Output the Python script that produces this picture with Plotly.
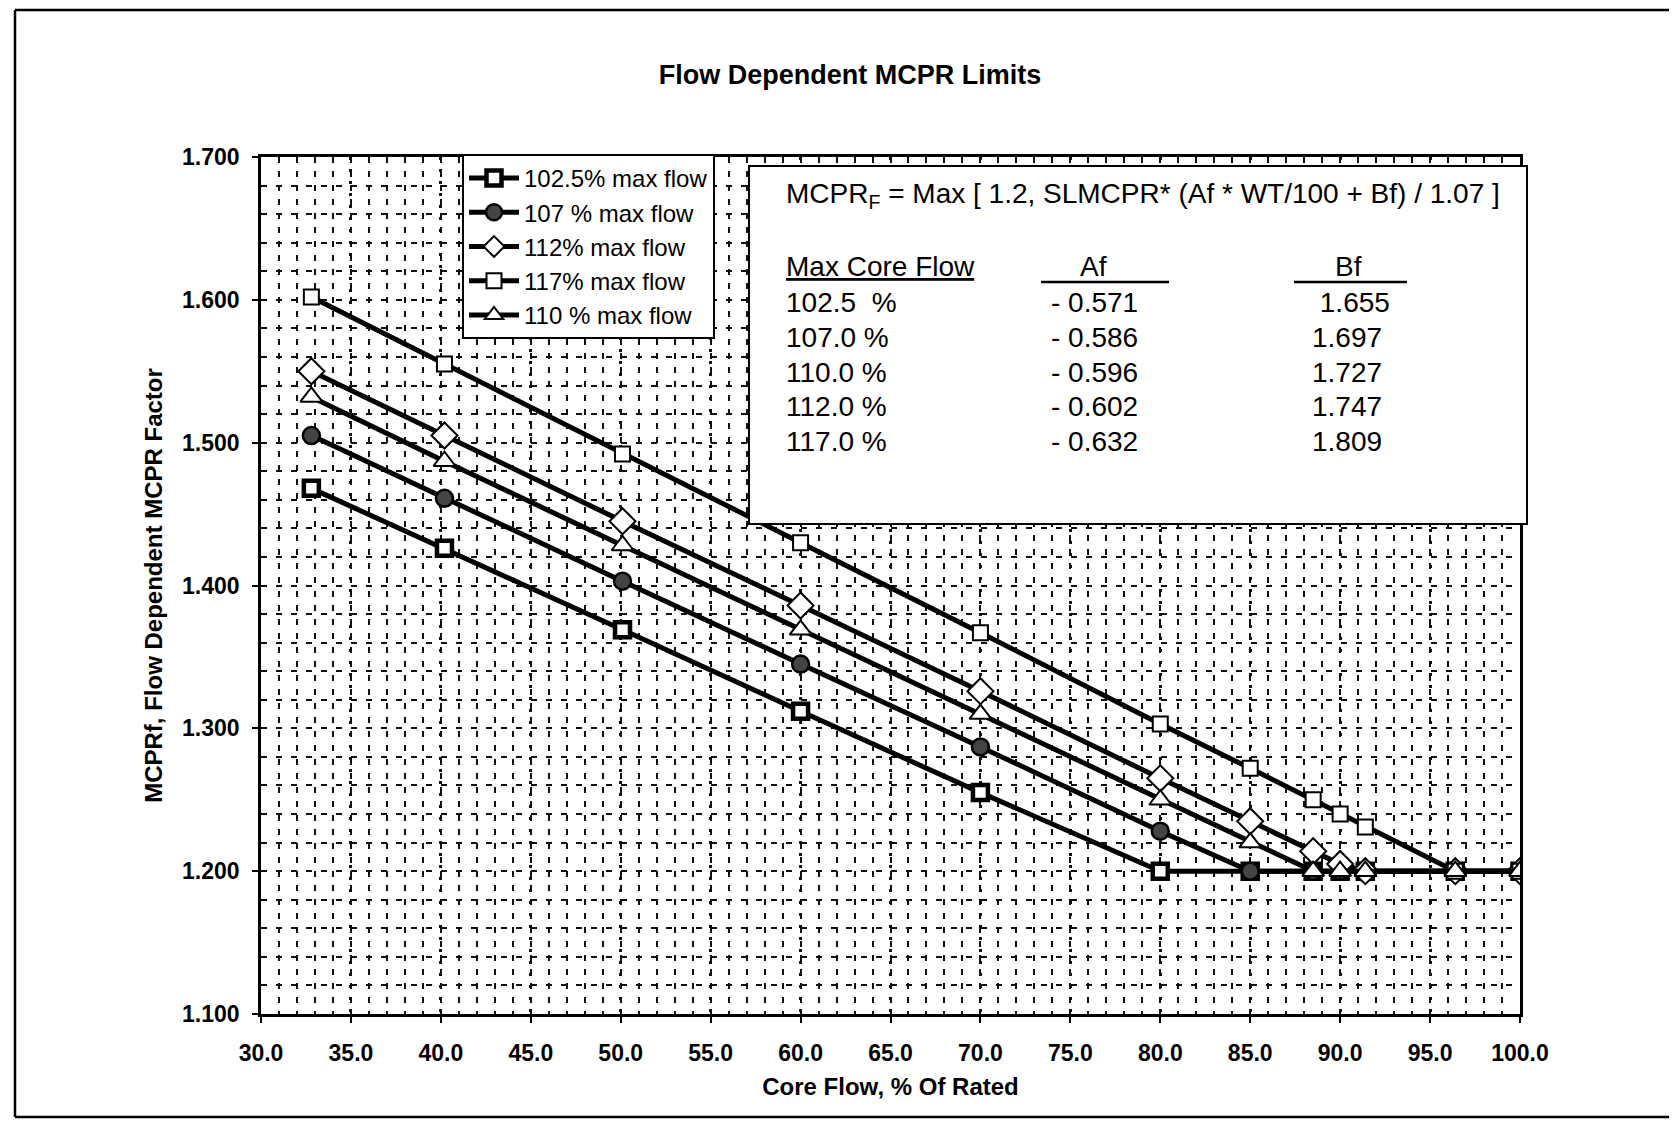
import plotly.graph_objects as go

# ---------------- data ----------------
core_flow = [32.8, 40.2, 50.1, 60.0, 70.0, 80.0, 85.0, 88.5, 90.0, 91.4, 96.4, 100.0]

series_names = ["102.5% max flow", "107 % max flow", "112% max flow", "117% max flow", "110 % max flow"]
mcpr_1025 = [1.468, 1.426, 1.369, 1.312, 1.255, 1.200, 1.200, 1.200, 1.200, 1.200, 1.200, 1.200]
mcpr_107 = [1.505, 1.461, 1.403, 1.345, 1.287, 1.228, 1.200, 1.200, 1.200, 1.200, 1.200, 1.200]
mcpr_112 = [1.550, 1.505, 1.445, 1.386, 1.326, 1.265, 1.235, 1.214, 1.205, 1.200, 1.200, 1.200]
mcpr_117 = [1.602, 1.555, 1.492, 1.430, 1.367, 1.303, 1.272, 1.250, 1.240, 1.231, 1.200, 1.200]
mcpr_110 = [1.532, 1.487, 1.428, 1.369, 1.310, 1.250, 1.220, 1.200, 1.200, 1.200, 1.200, 1.200]

x_ticks = [30, 35, 40, 45, 50, 55, 60, 65, 70, 75, 80, 85, 90, 95, 100]
y_ticks = [1.1, 1.2, 1.3, 1.4, 1.5, 1.6, 1.7]

table_flow = ["102.5\u00a0 %", "107.0 %", "110.0 %", "112.0 %", "117.0 %"]
table_af = ["- 0.571", "- 0.586", "- 0.596", "- 0.602", "- 0.632"]
table_bf = ["\u00a01.655", "1.697", "1.727", "1.747", "1.809"]
formula_text = "MCPR<sub>F</sub> = Max [ 1.2, SLMCPR* (Af * WT/100 + Bf) / 1.07 ]"

# ---------------- layout geometry (page pixels) ----------------
OFF = 8  # default page body margin
FIG_W, FIG_H = 1677 - OFF, 1122 - OFF
L, R, T, B = 261, 1520, 157, 1014
PW, PH = R - L, B - T


def px(x):
    return (x - L) / PW


def py(y):
    return (B - y) / PH


FONT = "Liberation Sans, Arial, sans-serif"

styles = [
    dict(symbol="square", size=15, color="white", line=dict(color="black", width=4.5)),
    dict(symbol="circle", size=17, color="#444444", line=dict(color="black", width=2.5)),
    dict(symbol="diamond", size=20, color="white", line=dict(color="black", width=2)),
    dict(symbol="square", size=15, color="white", line=dict(color="black", width=2)),
    dict(symbol="triangle-up", size=19, color="white", line=dict(color="black", width=2)),
]
series_vals = [mcpr_1025, mcpr_107, mcpr_112, mcpr_117, mcpr_110]

fig = go.Figure()
for i, (name, vals, st) in enumerate(zip(series_names, series_vals, styles)):
    fig.add_trace(go.Scatter(
        x=core_flow, y=vals, name=name, mode="lines+markers",
        line=dict(color="black", width=5),
        marker=st, legendgroup=f"g{i}",
    ))

grid_col = "#111111"
fig.update_xaxes(
    range=[30, 100], tickvals=x_ticks, tickformat=".1f",
    showline=True, mirror=True, linecolor="black", linewidth=2.5,
    ticks="outside", ticklen=6, tickwidth=2, tickcolor="black",
    showgrid=True, gridcolor=grid_col, gridwidth=2.5, griddash="3px,9px",
    minor=dict(dtick=1, showgrid=True, gridcolor=grid_col, gridwidth=1.8, griddash="6px,8px"),
    tickfont=dict(family=FONT, size=23, color="black", weight="bold"),
    ticklabelstandoff=11,
    title=dict(text="<b>Core Flow, % Of Rated</b>", font=dict(family=FONT, size=24, color="black"), standoff=13),
    zeroline=False, automargin=False,
)
fig.update_yaxes(
    range=[1.1, 1.7], tickvals=y_ticks, tickformat=".3f",
    showline=True, mirror=True, linecolor="black", linewidth=2.5,
    ticks="outside", ticklen=6, tickwidth=2, tickcolor="black",
    showgrid=True, gridcolor=grid_col, gridwidth=1.8, griddash="6px,9px",
    minor=dict(dtick=0.02, showgrid=True, gridcolor=grid_col, gridwidth=1.8, griddash="6px,9px"),
    tickfont=dict(family=FONT, size=23, color="black", weight="bold"),
    ticklabelstandoff=8,
    title=dict(text="<b>MCPRf, Flow Dependent MCPR Factor</b>", font=dict(family=FONT, size=24, color="black"), standoff=13),
    zeroline=False, automargin=False,
)

shapes = []
# outer frame (left, top, bottom)
shapes.append(dict(type="line", xref="paper", yref="paper", x0=px(15), x1=px(1700), y0=py(10), y1=py(10),
                   line=dict(color="black", width=2.5)))
shapes.append(dict(type="line", xref="paper", yref="paper", x0=px(15), x1=px(15), y0=py(10), y1=py(1117),
                   line=dict(color="black", width=2.5)))
shapes.append(dict(type="line", xref="paper", yref="paper", x0=px(15), x1=px(1700), y0=py(1117), y1=py(1117),
                   line=dict(color="black", width=2.5)))
# equation / table box
shapes.append(dict(type="rect", xref="paper", yref="paper", layer="above",
                   x0=px(749), x1=px(1527), y0=py(524), y1=py(166),
                   fillcolor="white", line=dict(color="black", width=2)))
# header underlines
shapes.append(dict(type="line", xref="paper", yref="paper", x0=px(1041), x1=px(1169), y0=py(282), y1=py(282),
                   line=dict(color="black", width=2.5)))
shapes.append(dict(type="line", xref="paper", yref="paper", x0=px(1294), x1=px(1407), y0=py(282), y1=py(282),
                   line=dict(color="black", width=2.5)))

box_font = dict(family=FONT, size=28, color="black")
annotations = [
    dict(text=formula_text, x=px(784), y=py(196), xref="paper", yref="paper",
         xanchor="left", yanchor="middle", showarrow=False, font=box_font),
    dict(text="<u>Max Core Flow</u>", x=px(784), y=py(266), xref="paper", yref="paper",
         xanchor="left", yanchor="middle", showarrow=False, font=box_font),
    dict(text="Af", x=px(1093), y=py(266), xref="paper", yref="paper",
         xanchor="center", yanchor="middle", showarrow=False, font=box_font),
    dict(text="Bf", x=px(1348), y=py(266), xref="paper", yref="paper",
         xanchor="center", yanchor="middle", showarrow=False, font=box_font),
]
row_y = [303, 337, 372, 406, 441]
for ry, fl, af, bf in zip(row_y, table_flow, table_af, table_bf):
    annotations.append(dict(text=fl, x=px(784), y=py(ry), xref="paper", yref="paper",
                            xanchor="left", yanchor="middle", showarrow=False, font=box_font))
    annotations.append(dict(text=af, x=px(1049), y=py(ry), xref="paper", yref="paper",
                            xanchor="left", yanchor="middle", showarrow=False, font=box_font))
    annotations.append(dict(text=bf, x=px(1310), y=py(ry), xref="paper", yref="paper",
                            xanchor="left", yanchor="middle", showarrow=False, font=box_font))

fig.update_layout(
    width=FIG_W, height=FIG_H,
    margin=dict(l=L - OFF, r=FIG_W - (R - OFF), t=T - OFF, b=FIG_H - (B - OFF), autoexpand=False),
    paper_bgcolor="white", plot_bgcolor="white",
    title=dict(text="<b>Flow Dependent MCPR Limits</b>", xref="paper", x=px(850), xanchor="center",
               yref="container", y=1 - (75 - OFF) / FIG_H, yanchor="middle",
               font=dict(family=FONT, size=27, color="black")),
    showlegend=True,
    legend=dict(x=px(462), y=py(154), xanchor="left", yanchor="top",
                bgcolor="white", bordercolor="black", borderwidth=2,
                font=dict(family=FONT, size=24, color="black"),
                tracegroupgap=4, itemwidth=50, traceorder="normal"),
    shapes=shapes, annotations=annotations,
)

fig.write_html("out.html")
